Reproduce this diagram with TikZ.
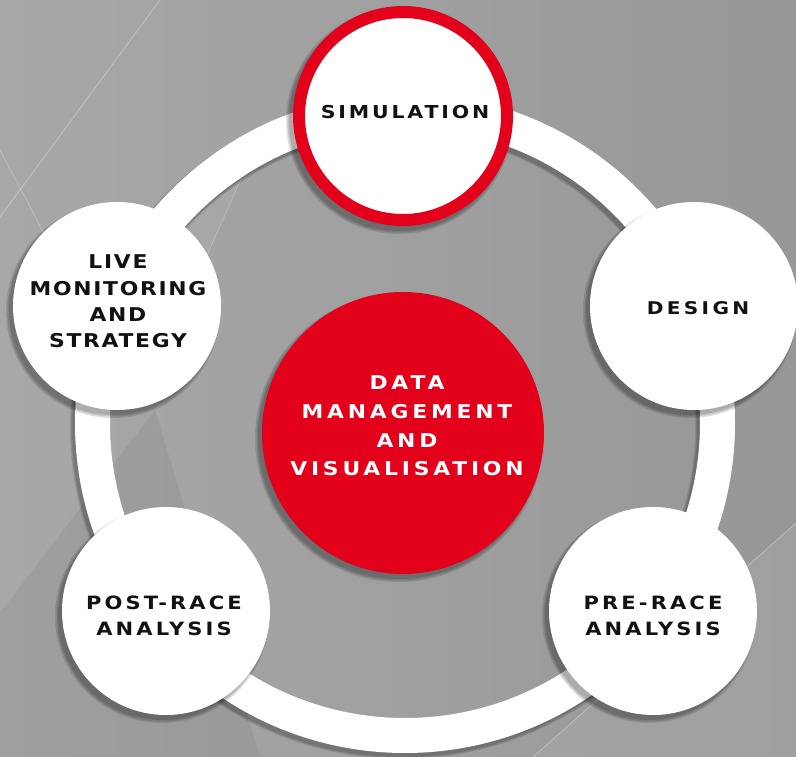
\documentclass[tikz,border=0pt]{standalone}
\usepackage{fontspec}
\usetikzlibrary{calc}
\newfontfamily\lblfont{DejaVu Sans}[FakeStretch=1.15]
\definecolor{bgdark}{HTML}{979797}
\definecolor{bglight}{HTML}{A8A8A8}
\definecolor{racered}{HTML}{E2001A}
\definecolor{ink}{HTML}{111111}

% soft drop shadow below a disc: centre, radius (pt)
\newcommand\discshadow[2]{%
  \foreach \d in {3,1.5,0}
    \fill[black, opacity=0.12] ($(#1)+(-4,5)$) circle[radius=#2pt+\d pt];}

\begin{document}
\begin{tikzpicture}[x=1pt, y=-1pt,
  bubble/.style={circle, fill=white, minimum size=208pt, inner sep=0pt},
  hub/.style={circle, fill=racered, minimum size=282pt, inner sep=0pt},
  lbl/.style={align=center, text=ink, inner sep=0pt},
]
% canvas
\useasboundingbox (0,0) rectangle (796,757);
\shade[left color=bglight, right color=bgdark] (0,0) rectangle (796,757);

% faint background facets
\fill[black, opacity=0.05] (0,613) -- (155,410) -- (260,757) -- (0,757) -- cycle;
\fill[white, opacity=0.08] (796,523) -- (796,757) -- (533,757) -- cycle;
\fill[white, opacity=0.05] (245,170) -- (205,260) -- (150,410) -- (120,300) -- cycle;
\draw[white, opacity=0.3, line width=0.8pt] (160,0) -- (0,217);
\draw[white, opacity=0.25, line width=0.8pt] (0,150) -- (45,235);
\draw[white, opacity=0.3, line width=0.8pt] (796,523) -- (533,757);
\draw[white, opacity=0.2, line width=0.8pt] (245,170) -- (205,260);

% positions
\coordinate (ringC) at (405,423);
\coordinate (simC) at (403,116);
\coordinate (desC) at (694,306);
\coordinate (liveC) at (117,306);
\coordinate (postC) at (166,611);
\coordinate (preC) at (653,611);
\coordinate (hubC) at (403,433);

% ring with its shadow
\foreach \d in {4,2,0}
  \draw[black, opacity=0.1, line width=35pt+\d pt] ($(ringC)+(-3,4)$) circle[radius=312.5pt];
\draw[white, line width=35pt] (ringC) circle[radius=312.5pt];

% shadows of the discs
\discshadow{simC}{110}
\discshadow{desC}{104}
\discshadow{liveC}{104}
\discshadow{postC}{104}
\discshadow{preC}{104}
\discshadow{hubC}{141}

% discs
\node[bubble, draw=racered, line width=12pt] (sim) at (simC) {};
\node[bubble] (des) at (desC) {};
\node[bubble] (live) at (liveC) {};
\node[bubble] (post) at (postC) {};
\node[bubble] (pre) at (preC) {};
\node[hub] (hub) at (hubC) {};

% labels
\node[lbl, font=\lblfont\bfseries\addfontfeature{LetterSpace=16}\fontsize{17.8}{26}\selectfont]
  (simT) at (405,112) {SIMULATION};
\node[lbl, font=\lblfont\bfseries\addfontfeature{LetterSpace=19}\fontsize{17.5}{26}\selectfont]
  (desT) at (698,308) {DESIGN};
\node[lbl, font=\lblfont\bfseries\addfontfeature{LetterSpace=9}\fontsize{19}{26.3}\selectfont]
  (liveT) at (118,301.5) {LIVE\\MONITORING\\AND\\STRATEGY};
\node[lbl, text=white, font=\lblfont\bfseries\addfontfeature{LetterSpace=20}\fontsize{19}{28.7}\selectfont]
  (hubT) at (407,426) {DATA\\MANAGEMENT\\AND\\VISUALISATION};
\node[lbl, font=\lblfont\bfseries\addfontfeature{LetterSpace=17}\fontsize{18.3}{26}\selectfont]
  (postT) at (164,615.5) {POST-RACE\\ANALYSIS};
\node[lbl, font=\lblfont\bfseries\addfontfeature{LetterSpace=17}\fontsize{18.3}{26}\selectfont]
  (preT) at (653,615.5) {PRE-RACE\\ANALYSIS};
\end{tikzpicture}
\end{document}
